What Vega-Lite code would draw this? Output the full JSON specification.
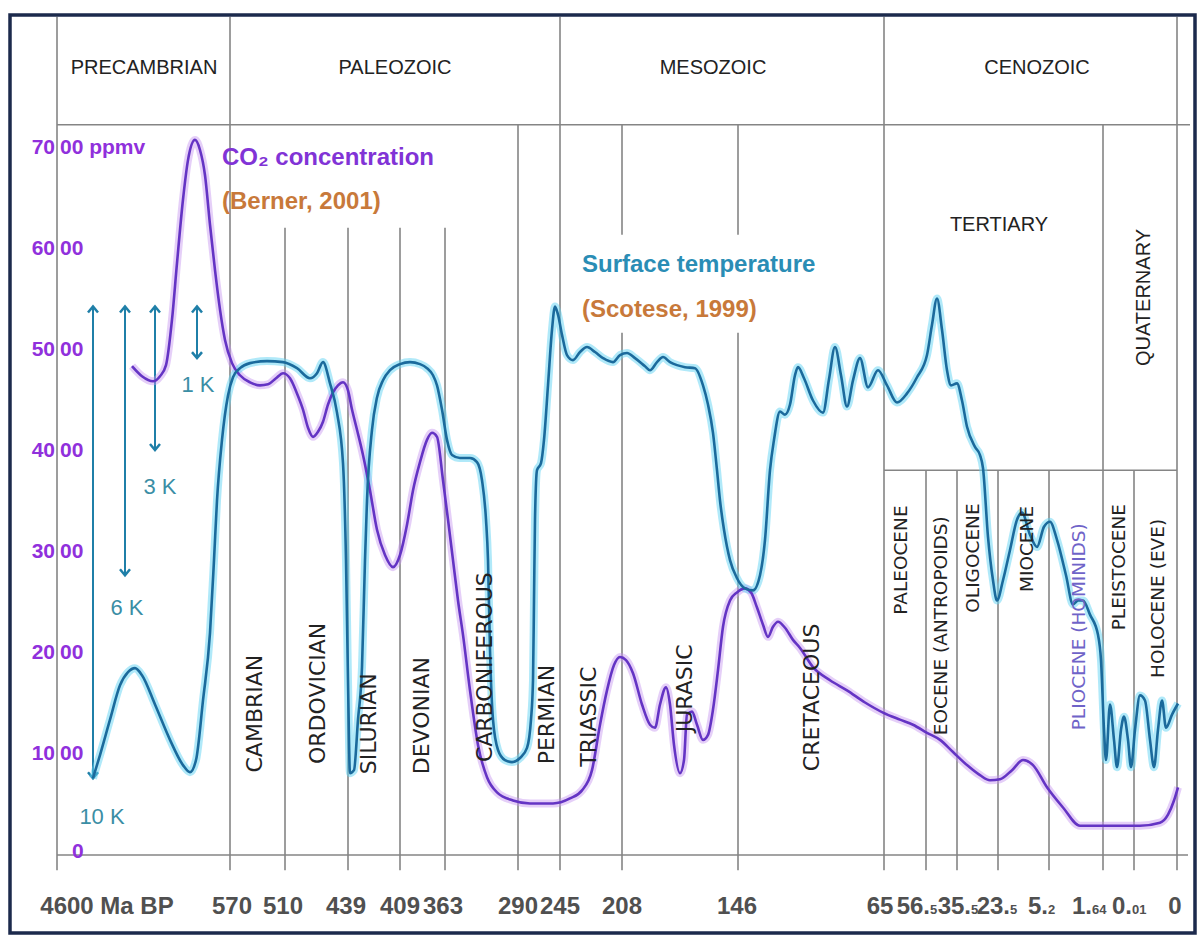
{
"$schema": "https://vega.github.io/schema/vega-lite/v6.json",
"width": 1200, "height": 943,
"autosize": {"type": "fit", "contains": "padding"},
"padding": 0,
"background": "white",
"config": {"view": {"stroke": null}},
"datasets": {
"frame": [{"x": 10, "x2": 1195, "v": 83.17, "v2": -7.72}],
"vlines": [
{"x": 57, "v": 83.0, "v2": -1.5},
{"x": 230, "v": 83.0, "v2": -1.5},
{"x": 285, "v": 62.1, "v2": -1.5},
{"x": 348, "v": 62.1, "v2": -1.5},
{"x": 400, "v": 62.1, "v2": -1.5},
{"x": 445, "v": 62.1, "v2": -1.5},
{"x": 518, "v": 72.3, "v2": -1.5},
{"x": 560, "v": 83.0, "v2": -1.5},
{"x": 622, "v": 72.3, "v2": 61.4},
{"x": 622, "v": 51.7, "v2": -1.5},
{"x": 738, "v": 72.3, "v2": 61.4},
{"x": 738, "v": 51.7, "v2": -1.5},
{"x": 884, "v": 83.0, "v2": -1.5},
{"x": 926, "v": 38.1, "v2": -1.5},
{"x": 957, "v": 38.1, "v2": -1.5},
{"x": 998, "v": 38.1, "v2": -1.5},
{"x": 1049, "v": 38.1, "v2": -1.5},
{"x": 1103, "v": 72.3, "v2": -1.5},
{"x": 1134, "v": 38.1, "v2": -1.5},
{"x": 1177, "v": 83.0, "v2": -1.5}
],
"hlines": [
{"x": 57, "x2": 1190, "v": 72.3},
{"x": 884, "x2": 1177, "v": 38.1},
{"x": 57, "x2": 1188, "v": 0}
],
"temp": [
{"x":93,"v":7.6},{"x":100,"v":9.9},{"x":110,"v":13.4},{"x":120,"v":16.8},{"x":128,"v":18.1},{"x":135,"v":18.5},{"x":142,"v":17.8},{"x":155,"v":14.9},{"x":170,"v":11.4},{"x":183,"v":8.9},{"x":190,"v":8.2},{"x":196,"v":9.4},{"x":203,"v":15.3},{"x":210,"v":22.0},{"x":214,"v":29.2},{"x":217,"v":35.1},{"x":222,"v":41.1},{"x":228,"v":45.5},{"x":233,"v":47.3},{"x":240,"v":48.2},{"x":250,"v":48.7},{"x":267,"v":48.9},{"x":283,"v":48.8},{"x":297,"v":48.2},{"x":310,"v":47.2},{"x":317,"v":47.7},{"x":323,"v":48.8},{"x":330,"v":46.7},{"x":337,"v":43.8},{"x":343,"v":38.8},{"x":346,"v":29.2},{"x":348,"v":17.3},{"x":350,"v":8.1},{"x":354,"v":8.4},{"x":358,"v":13.4},{"x":362,"v":18.6},{"x":365,"v":29.2},{"x":367,"v":35.1},{"x":372,"v":42.1},{"x":377,"v":45.3},{"x":383,"v":47.0},{"x":390,"v":48.0},{"x":400,"v":48.6},{"x":410,"v":48.8},{"x":420,"v":48.6},{"x":427,"v":48.2},{"x":433,"v":47.5},{"x":437,"v":46.5},{"x":442,"v":44.1},{"x":447,"v":41.1},{"x":452,"v":39.6},{"x":460,"v":39.3},{"x":470,"v":39.3},{"x":477,"v":38.9},{"x":482,"v":37.1},{"x":486,"v":33.2},{"x":488,"v":29.2},{"x":490,"v":20.3},{"x":493,"v":13.4},{"x":498,"v":10.4},{"x":505,"v":9.4},{"x":512,"v":9.2},{"x":520,"v":9.6},{"x":527,"v":10.6},{"x":531,"v":13.4},{"x":533,"v":17.3},{"x":534,"v":25.2},{"x":535,"v":33.2},{"x":537,"v":38.1},{"x":541,"v":38.8},{"x":544,"v":41.1},{"x":548,"v":46.5},{"x":552,"v":52.0},{"x":555,"v":54.3},{"x":558,"v":53.5},{"x":562,"v":51.5},{"x":567,"v":49.5},{"x":573,"v":49.0},{"x":580,"v":49.8},{"x":587,"v":50.3},{"x":595,"v":49.8},{"x":603,"v":49.2},{"x":613,"v":48.8},{"x":620,"v":49.5},{"x":627,"v":49.7},{"x":635,"v":49.2},{"x":645,"v":48.4},{"x":650,"v":48.0},{"x":657,"v":48.8},{"x":663,"v":49.3},{"x":670,"v":48.8},{"x":677,"v":48.5},{"x":685,"v":48.3},{"x":695,"v":48.2},{"x":703,"v":46.5},{"x":708,"v":44.6},{"x":713,"v":41.8},{"x":717,"v":38.1},{"x":720,"v":35.1},{"x":724,"v":32.2},{"x":730,"v":29.2},{"x":737,"v":27.4},{"x":745,"v":26.4},{"x":753,"v":26.2},{"x":760,"v":27.7},{"x":765,"v":31.2},{"x":770,"v":38.1},{"x":774,"v":41.1},{"x":780,"v":43.9},{"x":785,"v":43.6},{"x":790,"v":44.6},{"x":795,"v":47.5},{"x":798,"v":48.3},{"x":804,"v":47.2},{"x":813,"v":45.0},{"x":823,"v":43.8},{"x":829,"v":47.1},{"x":835,"v":50.3},{"x":841,"v":47.5},{"x":847,"v":44.4},{"x":853,"v":47.0},{"x":860,"v":49.2},{"x":868,"v":46.3},{"x":878,"v":48.0},{"x":887,"v":46.5},{"x":897,"v":44.8},{"x":907,"v":45.7},{"x":917,"v":47.3},{"x":927,"v":49.5},{"x":932,"v":52.5},{"x":937,"v":55.1},{"x":942,"v":52.0},{"x":947,"v":48.0},{"x":951,"v":46.5},{"x":957,"v":46.7},{"x":962,"v":45.0},{"x":967,"v":42.4},{"x":975,"v":40.4},{"x":980,"v":39.6},{"x":983,"v":38.3},{"x":988,"v":31.5},{"x":993,"v":27.2},{"x":997,"v":25.2},{"x":1003,"v":27.2},{"x":1010,"v":30.2},{"x":1017,"v":33.2},{"x":1022,"v":33.9},{"x":1030,"v":31.7},{"x":1037,"v":30.5},{"x":1044,"v":32.5},{"x":1050,"v":33.0},{"x":1057,"v":31.2},{"x":1066,"v":27.7},{"x":1073,"v":24.8},{"x":1078,"v":25.2},{"x":1083,"v":25.2},{"x":1090,"v":23.8},{"x":1098,"v":21.8},{"x":1101,"v":19.3},{"x":1104,"v":12.4},{"x":1106,"v":9.4},{"x":1110,"v":14.9},{"x":1114,"v":11.4},{"x":1117,"v":8.7},{"x":1121,"v":12.4},{"x":1124,"v":13.7},{"x":1128,"v":11.4},{"x":1131,"v":8.7},{"x":1135,"v":12.4},{"x":1140,"v":15.8},{"x":1145,"v":15.3},{"x":1150,"v":11.4},{"x":1154,"v":8.7},{"x":1158,"v":12.4},{"x":1162,"v":15.3},{"x":1166,"v":12.6},{"x":1172,"v":13.9},{"x":1178,"v":15.0}
],
"co2": [
{"x":132,"v":48.4},{"x":142,"v":47.4},{"x":153,"v":46.9},{"x":160,"v":47.4},{"x":166,"v":48.5},{"x":172,"v":53.0},{"x":177,"v":58.6},{"x":183,"v":64.9},{"x":188,"v":68.8},{"x":195,"v":70.8},{"x":200,"v":69.8},{"x":205,"v":67.3},{"x":210,"v":62.4},{"x":215,"v":57.9},{"x":220,"v":54.0},{"x":225,"v":51.0},{"x":232,"v":48.7},{"x":240,"v":47.5},{"x":250,"v":46.8},{"x":260,"v":46.5},{"x":268,"v":46.6},{"x":276,"v":47.2},{"x":283,"v":47.7},{"x":290,"v":47.2},{"x":297,"v":45.7},{"x":303,"v":44.1},{"x":308,"v":42.3},{"x":313,"v":41.4},{"x":318,"v":41.9},{"x":323,"v":42.9},{"x":328,"v":44.6},{"x":333,"v":45.8},{"x":338,"v":46.5},{"x":343,"v":46.8},{"x":348,"v":46.0},{"x":352,"v":44.1},{"x":357,"v":42.1},{"x":363,"v":39.6},{"x":370,"v":36.1},{"x":377,"v":32.2},{"x":385,"v":29.7},{"x":393,"v":28.5},{"x":400,"v":29.7},{"x":407,"v":32.7},{"x":413,"v":36.1},{"x":420,"v":38.9},{"x":427,"v":41.1},{"x":432,"v":41.8},{"x":437,"v":41.4},{"x":443,"v":37.1},{"x":448,"v":33.2},{"x":453,"v":29.2},{"x":458,"v":25.2},{"x":463,"v":21.8},{"x":470,"v":16.3},{"x":478,"v":10.9},{"x":487,"v":7.7},{"x":497,"v":6.2},{"x":513,"v":5.4},{"x":530,"v":5.1},{"x":553,"v":5.1},{"x":570,"v":5.6},{"x":582,"v":6.4},{"x":592,"v":8.4},{"x":600,"v":12.9},{"x":607,"v":16.3},{"x":614,"v":18.8},{"x":620,"v":19.6},{"x":626,"v":19.3},{"x":633,"v":18.0},{"x":642,"v":14.9},{"x":650,"v":12.9},{"x":655,"v":12.6},{"x":660,"v":14.9},{"x":666,"v":16.6},{"x":670,"v":14.9},{"x":674,"v":10.9},{"x":680,"v":8.1},{"x":684,"v":9.4},{"x":687,"v":13.9},{"x":692,"v":14.2},{"x":697,"v":12.9},{"x":703,"v":11.4},{"x":708,"v":11.9},{"x":713,"v":14.4},{"x":718,"v":18.3},{"x":723,"v":22.6},{"x":730,"v":25.2},{"x":737,"v":26.0},{"x":745,"v":26.4},{"x":751,"v":26.0},{"x":757,"v":24.5},{"x":763,"v":22.8},{"x":768,"v":21.6},{"x":773,"v":22.6},{"x":778,"v":23.1},{"x":785,"v":22.5},{"x":793,"v":21.3},{"x":800,"v":20.5},{"x":813,"v":18.6},{"x":830,"v":17.3},{"x":847,"v":16.3},{"x":865,"v":15.1},{"x":883,"v":14.1},{"x":900,"v":13.4},{"x":913,"v":12.9},{"x":927,"v":12.1},{"x":940,"v":11.4},{"x":953,"v":10.2},{"x":967,"v":8.9},{"x":980,"v":7.9},{"x":990,"v":7.4},{"x":1000,"v":7.5},{"x":1012,"v":8.4},{"x":1023,"v":9.4},{"x":1033,"v":8.9},{"x":1047,"v":6.7},{"x":1063,"v":4.7},{"x":1080,"v":2.9},{"x":1100,"v":2.9},{"x":1120,"v":2.9},{"x":1140,"v":2.9},{"x":1160,"v":3.2},{"x":1168,"v":4.0},{"x":1174,"v":5.4},{"x":1178,"v":6.7}
],
"arrows": [
{"x": 93, "v": 54.3, "v2": 7.6},
{"x": 125, "v": 54.3, "v2": 27.7},
{"x": 155, "v": 54.3, "v2": 40.1},
{"x": 197, "v": 54.3, "v2": 49.2}
],
"headsUp": [{"x": 93, "v": 54.3}, {"x": 125, "v": 54.3}, {"x": 155, "v": 54.3}, {"x": 197, "v": 54.3}],
"headsDown": [{"x": 93, "v": 7.6}, {"x": 125, "v": 27.7}, {"x": 155, "v": 40.1}, {"x": 197, "v": 49.2}],
"hdr": [
{"x": 144, "v": 77.9, "t": "PRECAMBRIAN"},
{"x": 395, "v": 77.9, "t": "PALEOZOIC"},
{"x": 713, "v": 77.9, "t": "MESOZOIC"},
{"x": 1037, "v": 77.9, "t": "CENOZOIC"},
{"x": 999, "v": 62.4, "t": "TERTIARY"}
],
"quat": [{"x": 1144, "v": 55.2, "t": "QUATERNARY"}],
"periods": [
{"x": 255, "v": 14.0, "t": "CAMBRIAN"},
{"x": 318, "v": 16.0, "t": "ORDOVICIAN"},
{"x": 369, "v": 13.0, "t": "SILURIAN"},
{"x": 422, "v": 13.8, "t": "DEVONIAN"},
{"x": 485, "v": 18.6, "t": "CARBONIFEROUS"},
{"x": 547, "v": 13.9, "t": "PERMIAN"},
{"x": 589, "v": 13.7, "t": "TRIASSIC"},
{"x": 685, "v": 16.5, "t": "JURASIC"},
{"x": 812, "v": 15.6, "t": "CRETACEOUS"}
],
"epochs": [
{"x": 901, "v": 29.2, "t": "PALEOCENE"},
{"x": 941, "v": 22.7, "t": "EOCENE (ANTROPOIDS)"},
{"x": 973, "v": 29.4, "t": "OLIGOCENE"},
{"x": 1027, "v": 30.3, "t": "MIOCENE"},
{"x": 1119, "v": 28.5, "t": "PLEISTOCENE"},
{"x": 1158, "v": 25.4, "t": "HOLOCENE (EVE)"}
],
"plio": [{"x": 1079, "v": 22.6, "t": "PLIOCENE (HOMINIDS)"}],
"co2title": [{"x": 222, "v": 69.0, "t": "CO₂ concentration"}],
"cites": [{"x": 222, "v": 64.7, "t": "(Berner, 2001)"}, {"x": 582, "v": 54.0, "t": "(Scotese, 1999)"}],
"ttitle": [{"x": 582, "v": 58.4, "t": "Surface temperature"}],
"klabels": [
{"x": 102, "v": 3.8, "t": "10 K"},
{"x": 127, "v": 24.5, "t": "6 K"},
{"x": 160, "v": 36.4, "t": "3 K"},
{"x": 198, "v": 46.5, "t": "1 K"}
],
"ylabA": [
{"x": 55, "v": 70, "t": "70"},
{"x": 55, "v": 60, "t": "60"},
{"x": 55, "v": 50, "t": "50"},
{"x": 55, "v": 40, "t": "40"},
{"x": 55, "v": 30, "t": "30"},
{"x": 55, "v": 20, "t": "20"},
{"x": 55, "v": 10, "t": "10"}
],
"ylabB": [
{"x": 60, "v": 70, "t": "00 ppmv"},
{"x": 60, "v": 60, "t": "00"},
{"x": 60, "v": 50, "t": "00"},
{"x": 60, "v": 40, "t": "00"},
{"x": 60, "v": 30, "t": "00"},
{"x": 60, "v": 20, "t": "00"},
{"x": 60, "v": 10, "t": "00"},
{"x": 72, "v": 0.3, "t": "0"}
],
"xlabC": [
{"x": 107, "v": -5.84, "t": "4600 Ma BP"},
{"x": 232, "v": -5.84, "t": "570"},
{"x": 283, "v": -5.84, "t": "510"},
{"x": 346, "v": -5.84, "t": "439"},
{"x": 400, "v": -5.84, "t": "409"},
{"x": 443, "v": -5.84, "t": "363"},
{"x": 518, "v": -5.84, "t": "290"},
{"x": 560, "v": -5.84, "t": "245"},
{"x": 622, "v": -5.84, "t": "208"},
{"x": 737, "v": -5.84, "t": "146"},
{"x": 880, "v": -5.84, "t": "65"},
{"x": 1175, "v": -5.84, "t": "0"}
],
"xlabR": [
{"x": 930, "v": -5.84, "t": "56."},
{"x": 971, "v": -5.84, "t": "35."},
{"x": 1010, "v": -5.84, "t": "23."},
{"x": 1048, "v": -5.84, "t": "5."},
{"x": 1092, "v": -5.84, "t": "1."},
{"x": 1132, "v": -5.84, "t": "0."}
],
"xlabS": [
{"x": 930, "v": -5.84, "t": "5"},
{"x": 971, "v": -5.84, "t": "5"},
{"x": 1010, "v": -5.84, "t": "5"},
{"x": 1048, "v": -5.84, "t": "2"},
{"x": 1092, "v": -5.84, "t": "64"},
{"x": 1132, "v": -5.84, "t": "01"}
]
},
"encoding": {
"x": {"field": "x", "type": "quantitative", "scale": {"domain": [0, 1200], "nice": false, "zero": false}, "axis": null},
"y": {"field": "v", "type": "quantitative", "scale": {"domain": [-8.713, 84.653], "nice": false, "zero": false}, "axis": null}
},
"layer": [
{"data": {"name": "vlines"}, "mark": {"type": "rule", "color": "#858585", "strokeWidth": 1.6}, "encoding": {"y2": {"field": "v2"}}},
{"data": {"name": "hlines"}, "mark": {"type": "rule", "color": "#858585", "strokeWidth": 1.6}, "encoding": {"x2": {"field": "x2"}}},
{"data": {"name": "arrows"}, "mark": {"type": "rule", "color": "#1f7fa8", "strokeWidth": 2}, "encoding": {"y2": {"field": "v2"}}},
{"data": {"name": "headsUp"}, "mark": {"type": "point", "shape": "M-1,1.2L0,0L1,1.2", "size": 100, "filled": false, "stroke": "#1f7fa8", "strokeWidth": 2.5, "opacity": 1}},
{"data": {"name": "headsDown"}, "mark": {"type": "point", "shape": "M-1,-1.2L0,0L1,-1.2", "size": 100, "filled": false, "stroke": "#1f7fa8", "strokeWidth": 2.5, "opacity": 1}},
{"data": {"name": "co2"}, "mark": {"type": "line", "interpolate": "monotone", "color": "#c595f0", "strokeWidth": 8, "opacity": 0.45}},
{"data": {"name": "temp"}, "mark": {"type": "line", "interpolate": "monotone", "color": "#62d4f4", "strokeWidth": 8, "opacity": 0.5}},
{"data": {"name": "co2"}, "mark": {"type": "line", "interpolate": "monotone", "color": "#6434c4", "strokeWidth": 2.6}},
{"data": {"name": "temp"}, "mark": {"type": "line", "interpolate": "monotone", "color": "#1b6a9c", "strokeWidth": 2.6}},
{"data": {"name": "hdr"}, "mark": {"type": "text", "font": "Liberation Sans", "fontSize": 20, "color": "#222222", "align": "center", "baseline": "middle"}, "encoding": {"text": {"field": "t"}}},
{"data": {"name": "quat"}, "mark": {"type": "text", "font": "Liberation Sans", "fontSize": 20, "color": "#222222", "align": "center", "baseline": "middle", "angle": 270}, "encoding": {"text": {"field": "t"}}},
{"data": {"name": "periods"}, "mark": {"type": "text", "font": "DejaVu Sans", "fontSize": 22, "color": "#222222", "align": "center", "baseline": "middle", "angle": 270}, "encoding": {"text": {"field": "t"}}},
{"data": {"name": "epochs"}, "mark": {"type": "text", "font": "DejaVu Sans", "fontSize": 18.5, "color": "#222222", "align": "center", "baseline": "middle", "angle": 270}, "encoding": {"text": {"field": "t"}}},
{"data": {"name": "plio"}, "mark": {"type": "text", "font": "DejaVu Sans", "fontSize": 18.5, "color": "#6f63c8", "align": "center", "baseline": "middle", "angle": 270}, "encoding": {"text": {"field": "t"}}},
{"data": {"name": "co2title"}, "mark": {"type": "text", "font": "Liberation Sans", "fontSize": 24, "fontWeight": "bold", "color": "#8133d6", "align": "left", "baseline": "middle"}, "encoding": {"text": {"field": "t"}}},
{"data": {"name": "cites"}, "mark": {"type": "text", "font": "Liberation Sans", "fontSize": 24, "fontWeight": "bold", "color": "#c8793a", "align": "left", "baseline": "middle"}, "encoding": {"text": {"field": "t"}}},
{"data": {"name": "ttitle"}, "mark": {"type": "text", "font": "Liberation Sans", "fontSize": 24, "fontWeight": "bold", "color": "#2a8db5", "align": "left", "baseline": "middle"}, "encoding": {"text": {"field": "t"}}},
{"data": {"name": "klabels"}, "mark": {"type": "text", "font": "Liberation Sans", "fontSize": 22, "color": "#3b8ea5", "align": "center", "baseline": "middle"}, "encoding": {"text": {"field": "t"}}},
{"data": {"name": "ylabA"}, "mark": {"type": "text", "font": "Liberation Sans", "fontSize": 21, "fontWeight": "bold", "color": "#9030dc", "align": "right", "baseline": "middle"}, "encoding": {"text": {"field": "t"}}},
{"data": {"name": "ylabB"}, "mark": {"type": "text", "font": "Liberation Sans", "fontSize": 21, "fontWeight": "bold", "color": "#9030dc", "align": "left", "baseline": "middle"}, "encoding": {"text": {"field": "t"}}},
{"data": {"name": "xlabC"}, "mark": {"type": "text", "font": "Liberation Sans", "fontSize": 24, "fontWeight": "bold", "color": "#505050", "align": "center", "baseline": "alphabetic"}, "encoding": {"text": {"field": "t"}}},
{"data": {"name": "xlabR"}, "mark": {"type": "text", "font": "Liberation Sans", "fontSize": 24, "fontWeight": "bold", "color": "#505050", "align": "right", "baseline": "alphabetic"}, "encoding": {"text": {"field": "t"}}},
{"data": {"name": "xlabS"}, "mark": {"type": "text", "font": "Liberation Sans", "fontSize": 13, "fontWeight": "bold", "color": "#505050", "align": "left", "baseline": "alphabetic"}, "encoding": {"text": {"field": "t"}}},
{"data": {"name": "frame"}, "mark": {"type": "rect", "filled": false, "stroke": "#1c2a4c", "strokeWidth": 3.5}, "encoding": {"x2": {"field": "x2"}, "y2": {"field": "v2"}}}
]
}
